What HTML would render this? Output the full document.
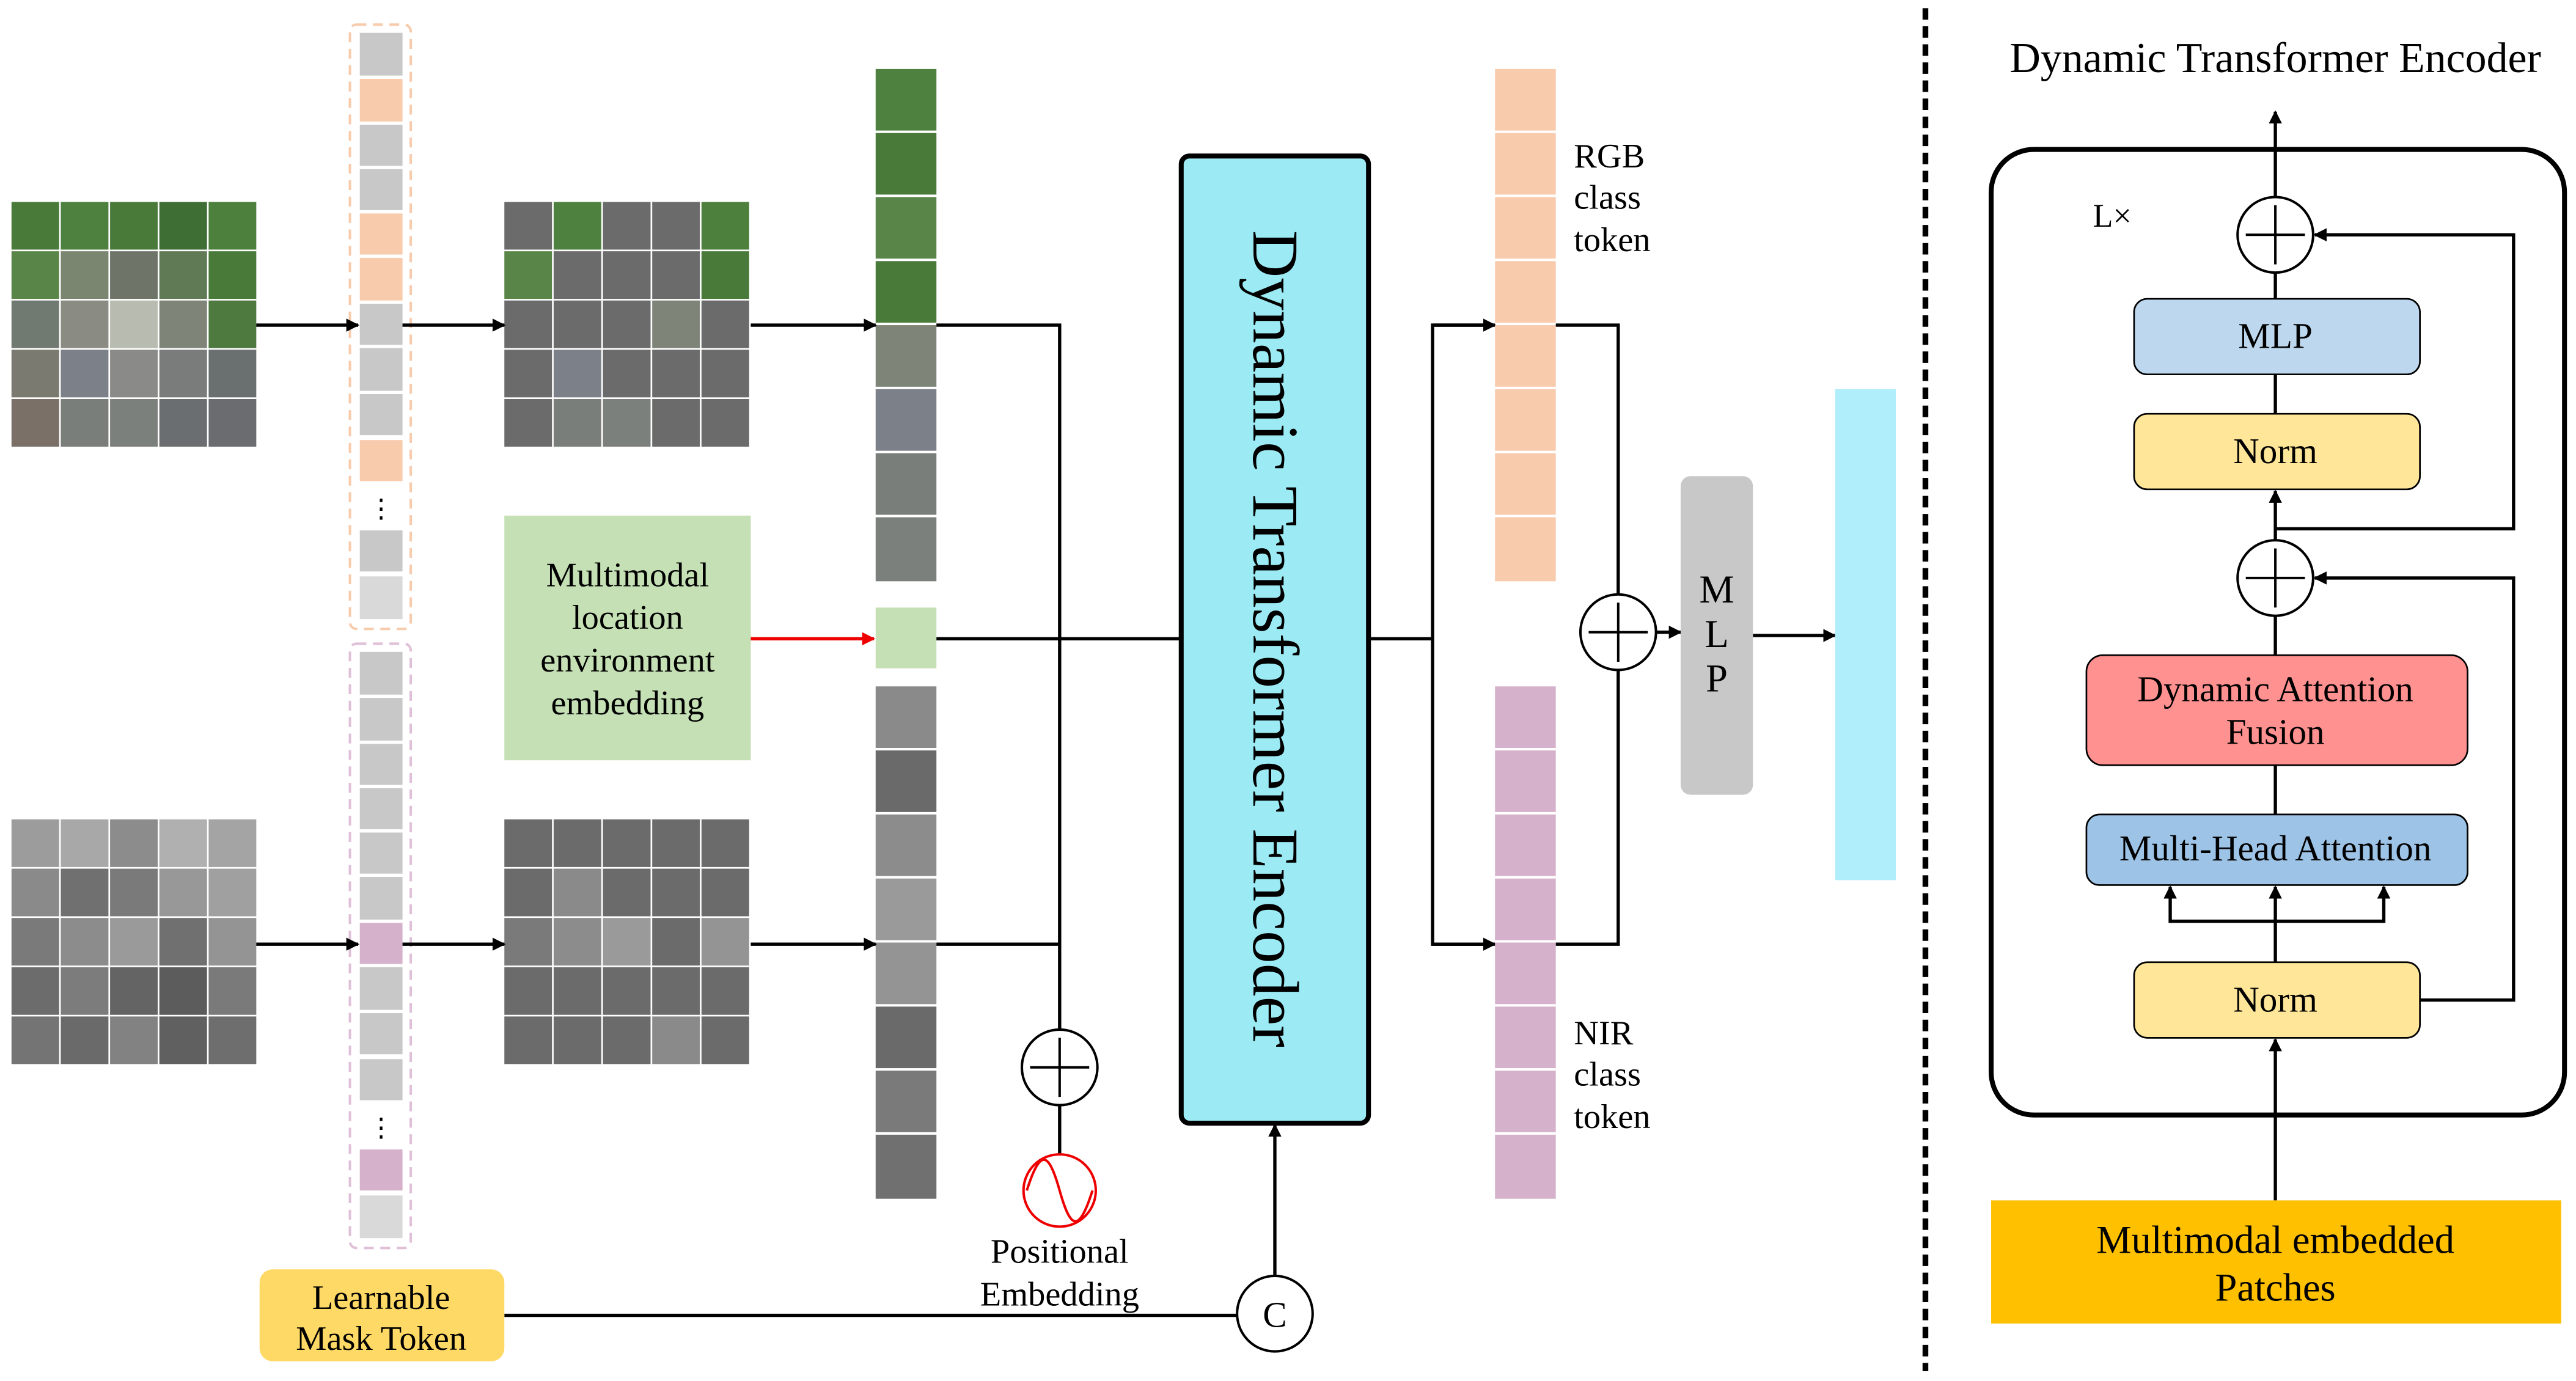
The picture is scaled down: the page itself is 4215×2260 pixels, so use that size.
<!DOCTYPE html>
<html><head><meta charset="utf-8"><style>html,body{margin:0;padding:0;background:#fff}svg{display:block}</style></head><body>
<svg width="4215" height="2260" viewBox="0 0 1568 841" preserveAspectRatio="none" xmlns="http://www.w3.org/2000/svg" font-family="Liberation Serif, serif">
<defs>
<marker id="a" viewBox="0 0 10 10" refX="9" refY="5" markerWidth="4" markerHeight="4" orient="auto"><path d="M0,0L10,5L0,10z" fill="#000"/></marker>
<marker id="ar" viewBox="0 0 10 10" refX="9" refY="5" markerWidth="4" markerHeight="4" orient="auto"><path d="M0,0L10,5L0,10z" fill="#e00"/></marker>
</defs>
<rect width="1568" height="841" fill="#fff"/>
<g>
<rect x="7" y="123" width="29" height="29" fill="#4a7a3a"/><rect x="37" y="123" width="29" height="29" fill="#4e8040"/><rect x="67" y="123" width="29" height="29" fill="#4a7a3a"/><rect x="97" y="123" width="29" height="29" fill="#3f6e35"/><rect x="127" y="123" width="29" height="29" fill="#4d803c"/>
<rect x="7" y="153" width="29" height="29" fill="#5a8548"/><rect x="37" y="153" width="29" height="29" fill="#7a8670"/><rect x="67" y="153" width="29" height="29" fill="#6f7468"/><rect x="97" y="153" width="29" height="29" fill="#5f7a55"/><rect x="127" y="153" width="29" height="29" fill="#4a7a3a"/>
<rect x="7" y="183" width="29" height="29" fill="#707a70"/><rect x="37" y="183" width="29" height="29" fill="#8a8c84"/><rect x="67" y="183" width="29" height="29" fill="#b8bcb0"/><rect x="97" y="183" width="29" height="29" fill="#7e8478"/><rect x="127" y="183" width="29" height="29" fill="#4e7a40"/>
<rect x="7" y="213" width="29" height="29" fill="#7a7a70"/><rect x="37" y="213" width="29" height="29" fill="#7c8088"/><rect x="67" y="213" width="29" height="29" fill="#8a8a88"/><rect x="97" y="213" width="29" height="29" fill="#7a7c7c"/><rect x="127" y="213" width="29" height="29" fill="#6a7070"/>
<rect x="7" y="243" width="29" height="29" fill="#7a7068"/><rect x="37" y="243" width="29" height="29" fill="#7a7e7a"/><rect x="67" y="243" width="29" height="29" fill="#7c807c"/><rect x="97" y="243" width="29" height="29" fill="#6a6e70"/><rect x="127" y="243" width="29" height="29" fill="#6a6c70"/>
</g>
<g transform="translate(300,0)" fill="#6b6b6b">
<rect x="7" y="123" width="29" height="29"/><rect x="37" y="123" width="29" height="29" fill="#4e8040"/><rect x="67" y="123" width="29" height="29"/><rect x="97" y="123" width="29" height="29"/><rect x="127" y="123" width="29" height="29" fill="#4d803c"/>
<rect x="7" y="153" width="29" height="29" fill="#5a8548"/><rect x="37" y="153" width="29" height="29"/><rect x="67" y="153" width="29" height="29"/><rect x="97" y="153" width="29" height="29"/><rect x="127" y="153" width="29" height="29" fill="#4a7a3a"/>
<rect x="7" y="183" width="29" height="29"/><rect x="37" y="183" width="29" height="29"/><rect x="67" y="183" width="29" height="29"/><rect x="97" y="183" width="29" height="29" fill="#7e8478"/><rect x="127" y="183" width="29" height="29"/>
<rect x="7" y="213" width="29" height="29"/><rect x="37" y="213" width="29" height="29" fill="#7c8088"/><rect x="67" y="213" width="29" height="29"/><rect x="97" y="213" width="29" height="29"/><rect x="127" y="213" width="29" height="29"/>
<rect x="7" y="243" width="29" height="29"/><rect x="37" y="243" width="29" height="29" fill="#7a7e7a"/><rect x="67" y="243" width="29" height="29" fill="#7c807c"/><rect x="97" y="243" width="29" height="29"/><rect x="127" y="243" width="29" height="29"/>
</g>
<g transform="translate(0,376)">
<rect x="7" y="123" width="29" height="29" fill="#9c9c9c"/><rect x="37" y="123" width="29" height="29" fill="#a8a8a8"/><rect x="67" y="123" width="29" height="29" fill="#8c8c8c"/><rect x="97" y="123" width="29" height="29" fill="#b0b0b0"/><rect x="127" y="123" width="29" height="29" fill="#a4a4a4"/>
<rect x="7" y="153" width="29" height="29" fill="#8a8a8a"/><rect x="37" y="153" width="29" height="29" fill="#707070"/><rect x="67" y="153" width="29" height="29" fill="#7a7a7a"/><rect x="97" y="153" width="29" height="29" fill="#989898"/><rect x="127" y="153" width="29" height="29" fill="#a0a0a0"/>
<rect x="7" y="183" width="29" height="29" fill="#7a7a7a"/><rect x="37" y="183" width="29" height="29" fill="#8c8c8c"/><rect x="67" y="183" width="29" height="29" fill="#9a9a9a"/><rect x="97" y="183" width="29" height="29" fill="#707070"/><rect x="127" y="183" width="29" height="29" fill="#949494"/>
<rect x="7" y="213" width="29" height="29" fill="#6c6c6c"/><rect x="37" y="213" width="29" height="29" fill="#7c7c7c"/><rect x="67" y="213" width="29" height="29" fill="#646464"/><rect x="97" y="213" width="29" height="29" fill="#5c5c5c"/><rect x="127" y="213" width="29" height="29" fill="#7a7a7a"/>
<rect x="7" y="243" width="29" height="29" fill="#747474"/><rect x="37" y="243" width="29" height="29" fill="#6a6a6a"/><rect x="67" y="243" width="29" height="29" fill="#828282"/><rect x="97" y="243" width="29" height="29" fill="#606060"/><rect x="127" y="243" width="29" height="29" fill="#6e6e6e"/>
</g>
<g transform="translate(300,376)" fill="#6b6b6b">
<rect x="7" y="123" width="29" height="29"/><rect x="37" y="123" width="29" height="29"/><rect x="67" y="123" width="29" height="29"/><rect x="97" y="123" width="29" height="29"/><rect x="127" y="123" width="29" height="29"/>
<rect x="7" y="153" width="29" height="29"/><rect x="37" y="153" width="29" height="29" fill="#8a8a8a"/><rect x="67" y="153" width="29" height="29"/><rect x="97" y="153" width="29" height="29"/><rect x="127" y="153" width="29" height="29"/>
<rect x="7" y="183" width="29" height="29" fill="#7a7a7a"/><rect x="37" y="183" width="29" height="29" fill="#8c8c8c"/><rect x="67" y="183" width="29" height="29" fill="#9a9a9a"/><rect x="97" y="183" width="29" height="29"/><rect x="127" y="183" width="29" height="29" fill="#949494"/>
<rect x="7" y="213" width="29" height="29"/><rect x="37" y="213" width="29" height="29"/><rect x="67" y="213" width="29" height="29"/><rect x="97" y="213" width="29" height="29"/><rect x="127" y="213" width="29" height="29"/>
<rect x="7" y="243" width="29" height="29"/><rect x="37" y="243" width="29" height="29"/><rect x="67" y="243" width="29" height="29"/><rect x="97" y="243" width="29" height="29" fill="#8a8a8a"/><rect x="127" y="243" width="29" height="29"/>
</g>
<rect x="213" y="15" width="37" height="368" rx="4" fill="none" stroke="#f8cbad" stroke-width="1.5" stroke-dasharray="6,4"/>
<g>
<rect x="219" y="20" width="26" height="26" fill="#c8c8c8"/><rect x="219" y="48" width="26" height="26" fill="#f8cbad"/><rect x="219" y="76" width="26" height="25" fill="#c8c8c8"/><rect x="219" y="103" width="26" height="25" fill="#c8c8c8"/><rect x="219" y="130" width="26" height="25" fill="#f8cbad"/><rect x="219" y="157" width="26" height="26" fill="#f8cbad"/><rect x="219" y="185" width="26" height="25" fill="#c8c8c8"/><rect x="219" y="212" width="26" height="26" fill="#c8c8c8"/><rect x="219" y="240" width="26" height="25" fill="#c8c8c8"/><rect x="219" y="268" width="26" height="25" fill="#f8cbad"/>
<text x="232" y="315" font-size="16" text-anchor="middle">⋮</text>
<rect x="219" y="323" width="26" height="25" fill="#c8c8c8"/><rect x="219" y="351" width="26" height="26" fill="#d9d9d9"/>
</g>
<rect x="213" y="392" width="37" height="368" rx="4" fill="none" stroke="#e0c0d8" stroke-width="1.5" stroke-dasharray="6,4"/>
<g>
<rect x="219" y="397" width="26" height="26" fill="#c8c8c8"/><rect x="219" y="425" width="26" height="26" fill="#c8c8c8"/><rect x="219" y="453" width="26" height="25" fill="#c8c8c8"/><rect x="219" y="480" width="26" height="25" fill="#c8c8c8"/><rect x="219" y="507" width="26" height="25" fill="#c8c8c8"/><rect x="219" y="534" width="26" height="26" fill="#c8c8c8"/><rect x="219" y="562" width="26" height="25" fill="#d5b1cb"/><rect x="219" y="589" width="26" height="26" fill="#c8c8c8"/><rect x="219" y="617" width="26" height="25" fill="#c8c8c8"/><rect x="219" y="645" width="26" height="25" fill="#c8c8c8"/>
<text x="232" y="692" font-size="16" text-anchor="middle">⋮</text>
<rect x="219" y="700" width="26" height="25" fill="#d5b1cb"/><rect x="219" y="728" width="26" height="26" fill="#d9d9d9"/>
</g>
<g>
<rect x="533" y="42" width="37" height="37.5" fill="#4e8040"/><rect x="533" y="81" width="37" height="37.5" fill="#4a7a3a"/><rect x="533" y="120" width="37" height="37.5" fill="#5a8548"/><rect x="533" y="159" width="37" height="37.5" fill="#4a7a3a"/><rect x="533" y="198" width="37" height="37.5" fill="#7e8478"/><rect x="533" y="237" width="37" height="37.5" fill="#7c8088"/><rect x="533" y="276" width="37" height="37.5" fill="#7a7e7a"/><rect x="533" y="315" width="37" height="39" fill="#7c807c"/>
<rect x="533" y="370" width="37" height="37" fill="#c5e0b4"/>
<rect x="533" y="418" width="37" height="37.5" fill="#8a8a8a"/><rect x="533" y="457" width="37" height="37.5" fill="#6a6a6a"/><rect x="533" y="496" width="37" height="37.5" fill="#8c8c8c"/><rect x="533" y="535" width="37" height="37.5" fill="#9a9a9a"/><rect x="533" y="574" width="37" height="37.5" fill="#949494"/><rect x="533" y="613" width="37" height="37.5" fill="#6a6a6a"/><rect x="533" y="652" width="37" height="37.5" fill="#7a7a7a"/><rect x="533" y="691" width="37" height="39" fill="#707070"/>
</g>
<rect x="307" y="314" width="150" height="149" fill="#c5e0b4"/>
<g font-size="21" text-anchor="middle"><text x="382" y="357">Multimodal</text><text x="382" y="383">location</text><text x="382" y="409">environment</text><text x="382" y="435">embedding</text></g>
<g stroke="#000" stroke-width="2" fill="none">
<line x1="156" y1="198" x2="218" y2="198" marker-end="url(#a)"/>
<line x1="245" y1="198" x2="307" y2="198" marker-end="url(#a)"/>
<line x1="457" y1="198" x2="533" y2="198" marker-end="url(#a)"/>
<line x1="156" y1="575" x2="218" y2="575" marker-end="url(#a)"/>
<line x1="245" y1="575" x2="307" y2="575" marker-end="url(#a)"/>
<line x1="457" y1="575" x2="533" y2="575" marker-end="url(#a)"/>
<polyline points="570,198 645,198 645,627"/>
<line x1="570" y1="575" x2="645" y2="575"/>
<line x1="570" y1="389" x2="719" y2="389"/>
<line x1="645" y1="673" x2="645" y2="703"/>
<line x1="307" y1="801" x2="753" y2="801"/>
<line x1="776" y1="777" x2="776" y2="685" marker-end="url(#a)"/>
</g>
<line x1="457" y1="389" x2="532" y2="389" stroke="#e00" stroke-width="2" marker-end="url(#ar)"/>
<circle cx="645" cy="650" r="23" fill="#fff" stroke="#000" stroke-width="1.5"/>
<path d="M627,650H663M645,632V668" stroke="#000" stroke-width="1.5"/>
<circle cx="645" cy="725" r="22" fill="#fff" stroke="#e00" stroke-width="1.5"/>
<path d="M625,725 C633,700 638,700 645,725 C652,750 657,750 665,725" fill="none" stroke="#e00" stroke-width="1.5"/>
<g font-size="21" text-anchor="middle"><text x="645" y="769">Positional</text><text x="645" y="795">Embedding</text></g>
<rect x="158" y="773" width="149" height="56" rx="8" fill="#ffd966"/>
<g font-size="21" text-anchor="middle"><text x="232" y="797">Learnable</text><text x="232" y="822">Mask Token</text></g>
<circle cx="776" cy="800" r="23" fill="#fff" stroke="#000" stroke-width="1.5"/>
<text x="776" y="808" font-size="22" text-anchor="middle">C</text>
<rect x="719" y="95" width="114" height="589" rx="5" fill="#9ceaf3" stroke="#000" stroke-width="3"/>
<text transform="translate(763,389) rotate(90)" font-size="40" text-anchor="middle">Dynamic Transformer Encoder</text>
<g stroke="#000" stroke-width="2" fill="none">
<line x1="833" y1="389" x2="872" y2="389"/>
<polyline points="909,198 872,198 872,575 909,575"/>
<line x1="872" y1="198" x2="910" y2="198" marker-end="url(#a)"/>
<line x1="872" y1="575" x2="910" y2="575" marker-end="url(#a)"/>
<polyline points="947,198 985,198 985,362"/>
<polyline points="947,575 985,575 985,408"/>
<line x1="1008" y1="385" x2="1023" y2="385" marker-end="url(#a)"/>
<line x1="1067" y1="387" x2="1117" y2="387" marker-end="url(#a)"/>
</g>
<g fill="#f8cbad">
<rect x="910" y="42" width="37" height="37.5"/><rect x="910" y="81" width="37" height="37.5"/><rect x="910" y="120" width="37" height="37.5"/><rect x="910" y="159" width="37" height="37.5"/><rect x="910" y="198" width="37" height="37.5"/><rect x="910" y="237" width="37" height="37.5"/><rect x="910" y="276" width="37" height="37.5"/><rect x="910" y="315" width="37" height="39"/>
</g>
<g fill="#d5b1cb">
<rect x="910" y="418" width="37" height="37.5"/><rect x="910" y="457" width="37" height="37.5"/><rect x="910" y="496" width="37" height="37.5"/><rect x="910" y="535" width="37" height="37.5"/><rect x="910" y="574" width="37" height="37.5"/><rect x="910" y="613" width="37" height="37.5"/><rect x="910" y="652" width="37" height="37.5"/><rect x="910" y="691" width="37" height="39"/>
</g>
<g font-size="21"><text x="958" y="102">RGB</text><text x="958" y="127">class</text><text x="958" y="153">token</text><text x="958" y="636">NIR</text><text x="958" y="661">class</text><text x="958" y="687">token</text></g>
<circle cx="985" cy="385" r="23" fill="#fff" stroke="#000" stroke-width="1.5"/>
<path d="M967,385H1003M985,367V403" stroke="#000" stroke-width="1.5"/>
<rect x="1023" y="290" width="44" height="194" rx="6" fill="#c8c8c8"/>
<g font-size="24" text-anchor="middle"><text x="1045" y="367">M</text><text x="1045" y="394">L</text><text x="1045" y="421">P</text></g>
<rect x="1117" y="237" width="37" height="299" fill="#b0eefc"/>
<line x1="1172" y1="5" x2="1172" y2="835" stroke="#000" stroke-width="3.5" stroke-dasharray="7,4"/>
<text x="1385" y="44" font-size="26" text-anchor="middle">Dynamic Transformer Encoder</text>
<rect x="1212" y="91" width="349" height="588" rx="26" fill="none" stroke="#000" stroke-width="3"/>
<text x="1274" y="138" font-size="20">L×</text>
<g stroke="#000" stroke-width="2" fill="none">
<line x1="1385" y1="120" x2="1385" y2="68" marker-end="url(#a)"/>
<line x1="1385" y1="166" x2="1385" y2="182"/>
<line x1="1385" y1="228" x2="1385" y2="252"/>
<line x1="1385" y1="329" x2="1385" y2="299" marker-end="url(#a)"/>
<polyline points="1385,322 1530,322 1530,143 1409,143" marker-end="url(#a)"/>
<line x1="1385" y1="375" x2="1385" y2="399"/>
<line x1="1385" y1="466" x2="1385" y2="496"/>
<polyline points="1473,609 1530,609 1530,352 1409,352" marker-end="url(#a)"/>
<line x1="1385" y1="586" x2="1385" y2="540" marker-end="url(#a)"/>
<polyline points="1321,561 1451,561"/>
<line x1="1321" y1="562" x2="1321" y2="540" marker-end="url(#a)"/>
<line x1="1451" y1="562" x2="1451" y2="540" marker-end="url(#a)"/>
<line x1="1385" y1="731" x2="1385" y2="633" marker-end="url(#a)"/>
</g>
<circle cx="1385" cy="143" r="23" fill="#fff" stroke="#000" stroke-width="1.5"/>
<path d="M1367,143H1403M1385,125V161" stroke="#000" stroke-width="1.5"/>
<circle cx="1385" cy="352" r="23" fill="#fff" stroke="#000" stroke-width="1.5"/>
<path d="M1367,352H1403M1385,334V370" stroke="#000" stroke-width="1.5"/>
<g stroke="#000" stroke-width="1">
<rect x="1299" y="182" width="174" height="46" rx="8" fill="#bdd7ee"/>
<rect x="1299" y="252" width="174" height="46" rx="8" fill="#ffe699"/>
<rect x="1270" y="399" width="232" height="67" rx="10" fill="#ff9191"/>
<rect x="1270" y="496" width="232" height="43" rx="8" fill="#9dc3e6"/>
<rect x="1299" y="586" width="174" height="46" rx="8" fill="#ffe699"/>
</g>
<rect x="1212" y="731" width="347" height="75" fill="#ffc000"/>
<g font-size="22" text-anchor="middle">
<text x="1385" y="212">MLP</text>
<text x="1385" y="282">Norm</text>
<text x="1385" y="427">Dynamic Attention</text>
<text x="1385" y="453">Fusion</text>
<text x="1385" y="524">Multi-Head Attention</text>
<text x="1385" y="616">Norm</text>
<text x="1385" y="763" font-size="24">Multimodal embedded</text>
<text x="1385" y="792" font-size="24">Patches</text>
</g>
</svg>
</body></html>
